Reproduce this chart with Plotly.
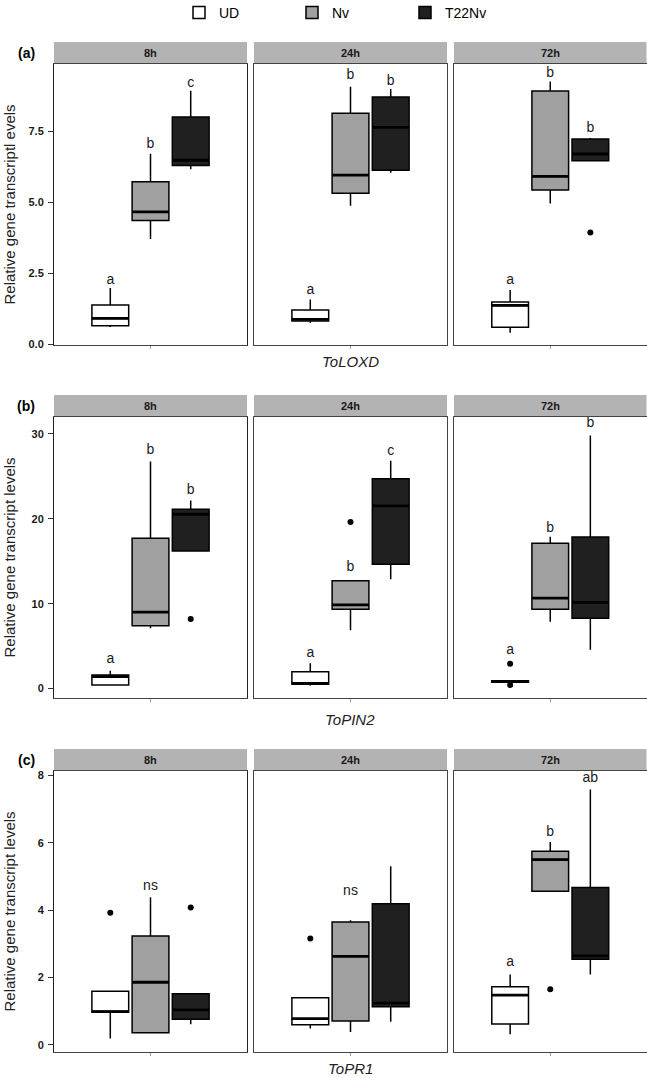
import plotly.graph_objects as go

W, H = 647, 1078
FONT = "Liberation Sans, Arial, sans-serif"

groups = ["UD", "Nv", "T22Nv"]
times = ["8h", "24h", "72h"]
genes = ["ToLOXD", "ToPIN2", "ToPR1"]
panel_tags = ["(a)", "(b)", "(c)"]
y_titles = ["Relative gene transcriptl evels",
            "Relative gene transcript levels",
            "Relative gene transcript levels"]
fills = ["#FFFFFF", "#A0A0A0", "#202020"]

# ---- ToLOXD (rows: 8h, 24h, 72h; cols: UD, Nv, T22Nv)
LOXD_q1 = [[0.64, 4.35, 6.29], [0.81, 5.31, 6.12], [0.59, 5.42, 6.45]]
LOXD_med = [[0.90, 4.65, 6.47], [0.87, 5.95, 7.63], [1.36, 5.90, 6.69]]
LOXD_q3 = [[1.37, 5.71, 7.99], [1.20, 8.13, 8.70], [1.48, 8.91, 7.22]]
LOXD_lo = [[0.60, 3.70, 6.15], [0.75, 4.87, 6.03], [0.40, 4.95, 6.45]]
LOXD_hi = [[1.97, 6.70, 8.92], [1.57, 9.06, 8.98], [1.90, 9.24, 7.25]]
LOXD_out = [[[], [], []], [[], [], []], [[], [], [3.93]]]
LOXD_let = [["a", "b", "c"], ["a", "b", "b"], ["a", "b", "b"]]
LOXD_let_y = [[2.23, 7.04, 9.18], [1.88, 9.47, 9.23], [2.25, 9.53, 7.59]]

# ---- ToPIN2
PIN2_q1 = [[0.41, 7.41, 16.21], [0.50, 9.34, 14.64], [0.75, 9.34, 8.28]]
PIN2_med = [[1.40, 8.99, 20.54], [0.60, 9.85, 21.52], [0.85, 10.64, 10.16]]
PIN2_q3 = [[1.59, 17.71, 21.13], [1.98, 12.71, 24.71], [0.92, 17.12, 17.87]]
PIN2_lo = [[0.41, 7.10, 16.21], [0.35, 6.86, 12.88], [0.75, 7.88, 4.58]]
PIN2_hi = [[2.10, 26.75, 22.15], [2.97, 12.71, 26.83], [0.92, 17.90, 29.81]]
PIN2_out = [[[], [], [8.20]], [[], [19.63], []], [[2.92, 0.41], [], []]]
PIN2_let = [["a", "b", "b"], ["a", "b", "c"], ["a", "b", "b"]]
PIN2_let_y = [[3.36, 28.0, 23.3], [4.15, 14.3, 27.9], [4.50, 18.9, 31.27]]

# ---- ToPR1
PR1_q1 = [[0.97, 0.36, 0.76], [0.60, 0.71, 1.13], [0.62, 4.56, 2.54]]
PR1_med = [[0.99, 1.86, 1.04], [0.78, 2.63, 1.24], [1.48, 5.50, 2.64]]
PR1_q3 = [[1.59, 3.23, 1.52], [1.40, 3.65, 4.19], [1.73, 5.75, 4.67]]
PR1_lo = [[0.19, 0.36, 0.61], [0.49, 0.38, 0.69], [0.32, 4.56, 2.09]]
PR1_hi = [[1.59, 4.38, 1.52], [1.40, 3.70, 5.30], [2.09, 6.02, 7.58]]
PR1_out = [[[3.92], [], [4.08]], [[3.16], [], []], [[], [1.65], []]]
PR1_let = [["", "ns", ""], ["", "ns", ""], ["a", "b", "ab"]]
PR1_let_y = [[0, 4.71, 0], [0, 4.54, 0], [2.45, 6.30, 7.92]]

y_ranges = [[-0.035, 9.86], [-1.12, 32.0], [-0.21, 8.13]]
y_ticks = [[0, 2.5, 5.0, 7.5], [0, 10, 20, 30], [0, 2, 4, 6, 8]]
y_fmt = [".1f", "d", "d"]

data = [
    (LOXD_q1, LOXD_med, LOXD_q3, LOXD_lo, LOXD_hi, LOXD_out, LOXD_let, LOXD_let_y),
    (PIN2_q1, PIN2_med, PIN2_q3, PIN2_lo, PIN2_hi, PIN2_out, PIN2_let, PIN2_let_y),
    (PR1_q1, PR1_med, PR1_q3, PR1_lo, PR1_hi, PR1_out, PR1_let, PR1_let_y),
]

# ---- layout geometry (pixels)
col_px = [(54, 247), (254, 447), (454, 646.5)]
row_px = [(64, 345), (417, 698), (771, 1052)]
strip_h = 22
gene_title_y = [361, 719, 1068]
BOX_W = 0.915


def fx(p):
    return p / W


def fy(p):
    return 1 - p / H


fig = go.Figure()
layout = {}
shapes = []
annotations = []

for r in range(3):
    q1, med, q3, lo, hi, outs, lets, lets_y = data[r]
    for c in range(3):
        n = r * 3 + c + 1
        xa = "x" if n == 1 else f"x{n}"
        ya = "y" if n == 1 else f"y{n}"
        xk = "xaxis" if n == 1 else f"xaxis{n}"
        yk = "yaxis" if n == 1 else f"yaxis{n}"
        for g, gname in enumerate(groups):
            fig.add_trace(go.Box(
                x=[gname], q1=[q1[c][g]], median=[med[c][g]], q3=[q3[c][g]],
                lowerfence=[lo[c][g]], upperfence=[hi[c][g]],
                name=gname, legendgroup=gname, showlegend=(n == 1),
                fillcolor=fills[g], line=dict(color="black", width=1.5),
                whiskerwidth=0, width=BOX_W, boxpoints=False,
                xaxis=xa, yaxis=ya, hoverinfo="skip",
            ))
            # thicker median line (ggplot style)
            shapes.append(dict(
                type="line", xref=xa, yref=ya, layer="above",
                x0=g - BOX_W / 2, x1=g + BOX_W / 2,
                y0=med[c][g], y1=med[c][g],
                line=dict(color="black", width=2.8),
            ))
            if outs[c][g]:
                fig.add_trace(go.Scatter(
                    x=[gname] * len(outs[c][g]), y=outs[c][g], mode="markers",
                    marker=dict(color="black", size=6), showlegend=False,
                    xaxis=xa, yaxis=ya, hoverinfo="skip",
                ))
        lx = [groups[g] for g in range(3) if lets[c][g]]
        ly = [lets_y[c][g] for g in range(3) if lets[c][g]]
        lt = [lets[c][g] for g in range(3) if lets[c][g]]
        fig.add_trace(go.Scatter(
            x=lx, y=ly, text=lt, mode="text", textposition="middle center",
            textfont=dict(size=14, color="#1a1a1a", family=FONT),
            showlegend=False, xaxis=xa, yaxis=ya, hoverinfo="skip",
        ))

        x0p, x1p = col_px[c]
        y0p, y1p = row_px[r]
        layout[xk] = dict(
            domain=[fx(x0p), fx(x1p)], anchor=ya, type="category",
            categoryorder="array", categoryarray=groups, automargin=False,
            range=[-1.4, 3.4], tickmode="array", tickvals=["Nv"], ticktext=[""],
            ticks="outside", ticklen=3, tickcolor="#999999",
            showline=True, mirror=True, linecolor="#444444", linewidth=1,
            showgrid=False, zeroline=False, fixedrange=True,
        )
        layout[yk] = dict(
            domain=[fy(y1p), fy(y0p)], anchor=xa, range=y_ranges[r],
            automargin=False,
            tickmode="array", tickvals=y_ticks[r], tickformat=y_fmt[r],
            showticklabels=(c == 0), ticks="outside" if c == 0 else "",
            ticklen=5, tickcolor="#333333", ticklabelstandoff=2,
            tickfont=dict(size=11, color="#1a1a1a", family=FONT, weight="bold"),
            showline=True, mirror=True,
            linecolor="#222222" if c == 0 else "#444444", linewidth=1,
            showgrid=False, zeroline=False, fixedrange=True,
        )
        # strip
        shapes.append(dict(
            type="rect", xref="paper", yref="paper",
            x0=fx(x0p), x1=fx(x1p), y0=fy(y0p), y1=fy(y0p - strip_h),
            fillcolor="#B3B3B3", line=dict(width=0), layer="below",
        ))
        annotations.append(dict(
            text=f"<b>{times[c]}</b>", xref="paper", yref="paper",
            x=fx((x0p + x1p) / 2), y=fy(y0p - strip_h / 2),
            xanchor="center", yanchor="middle", showarrow=False,
            font=dict(size=11, color="#1a1a1a", family=FONT),
        ))

    y0p, y1p = row_px[r]
    # panel tag
    annotations.append(dict(
        text=f"<b>{panel_tags[r]}</b>", xref="paper", yref="paper",
        x=fx(26), y=fy(y0p - strip_h / 2), xanchor="center", yanchor="middle",
        showarrow=False, font=dict(size=14, color="black", family=FONT),
    ))
    # y title
    annotations.append(dict(
        text=y_titles[r], xref="paper", yref="paper", textangle=-90,
        x=fx(9), y=fy((y0p + y1p) / 2), xanchor="center", yanchor="middle",
        showarrow=False, font=dict(size=15, color="#222222", family=FONT),
    ))
    # gene title (x axis title)
    annotations.append(dict(
        text=f"<i>{genes[r]}</i>", xref="paper", yref="paper",
        x=fx((col_px[0][0] + col_px[2][1]) / 2), y=fy(gene_title_y[r]),
        xanchor="center", yanchor="middle", showarrow=False,
        font=dict(size=15, color="#222222", family=FONT),
    ))

fig.update_layout(
    width=W, height=H, margin=dict(l=0, r=0, t=0, b=0, autoexpand=False),
    paper_bgcolor="white", plot_bgcolor="white",
    font=dict(family=FONT, color="black"),
    shapes=shapes, annotations=annotations,
    showlegend=True,
    legend=dict(
        orientation="h", x=fx(179), xanchor="left", y=fy(-3), yanchor="top",
        font=dict(size=14, family=FONT, color="black"),
        entrywidth=68, entrywidthmode="pixels",
        bgcolor="rgba(0,0,0,0)", itemclick=False, itemdoubleclick=False,
    ),
    **layout,
)

fig.write_html(
    "out.html",
    config={"displayModeBar": False, "staticPlot": True},
    post_script="document.body.style.margin='0';document.body.style.overflow='hidden';",
)
